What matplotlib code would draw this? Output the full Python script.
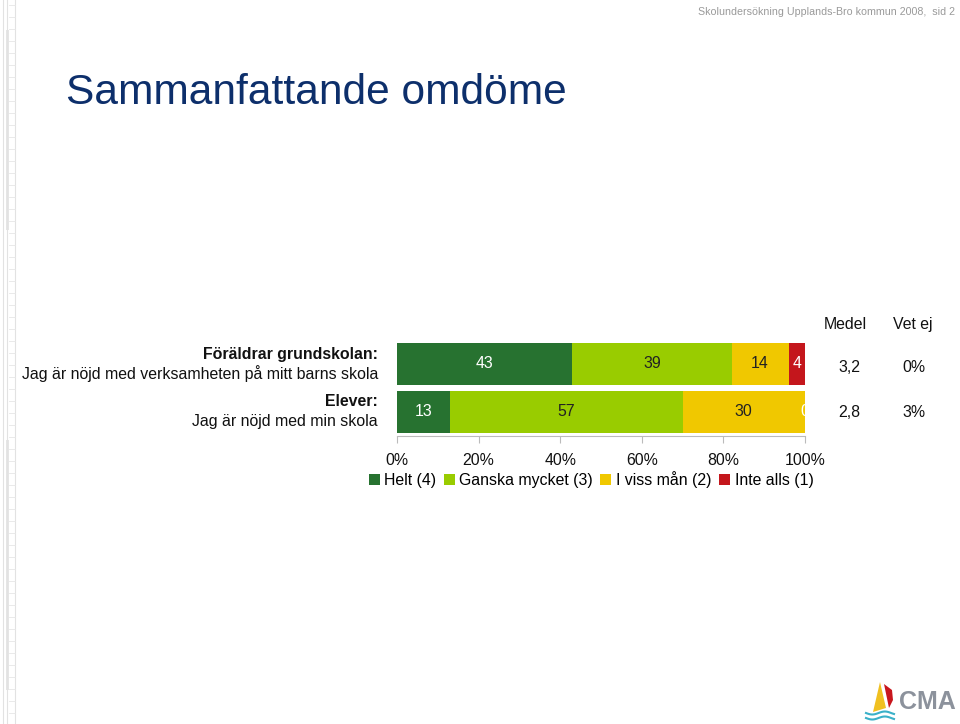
import matplotlib
matplotlib.use("Agg")
import matplotlib.pyplot as plt
from matplotlib.patches import Polygon, Rectangle
import numpy as np

plt.rcParams['font.family'] = ['Liberation Sans', 'DejaVu Sans']

# ---- data ----
rows_bold = ["Föräldrar grundskolan:", "Elever:"]
rows_text = ["Jag är nöjd med verksamheten på mitt barns skola", "Jag är nöjd med min skola"]
categories = ["Helt (4)", "Ganska mycket (3)", "I viss mån (2)", "Inte alls (1)"]
helt = [43, 13]
ganska = [39, 57]
viss = [14, 30]
inte = [4, 0]
medel = ["3,2", "2,8"]
vet_ej = ["0%", "3%"]
xticks = [0, 20, 40, 60, 80, 100]
xticklabels = ["0%", "20%", "40%", "60%", "80%", "100%"]

colors = ["#277230", "#99cc00", "#f0c800", "#c4161c"]
label_colors = ["white", "#222222", "#222222", "white"]

FS = 11.4

W, H = 960, 724
fig = plt.figure(figsize=(W / 100, H / 100), dpi=100)

def fx(px):
    return px / W

def fy(py):
    return 1 - py / H

# decorative ruler at left edge
deco = fig.add_axes([0, 0, 1, 1], zorder=-5)
deco.set_xlim(0, W)
deco.set_ylim(H, 0)
deco.axis("off")
for xv in [3, 7, 15]:
    deco.plot([xv, xv], [0, H], color="#e2e2e2", lw=0.8)
deco.add_patch(Rectangle((6, 30), 3, 200, color="#e6e6e6", lw=0))
deco.add_patch(Rectangle((6, 440), 3, 250, color="#e6e6e6", lw=0))
for yv in range(5, H, 12):
    deco.plot([9, 15], [yv, yv], color="#e6e6e6", lw=0.6)

# header and title
fig.text(fx(955), fy(12), "Skolundersökning Upplands-Bro kommun 2008,  sid 2",
         ha="right", va="center", fontsize=7.7, color="#9a9a9a")
fig.text(fx(66), fy(93), "Sammanfattande omdöme", ha="left", va="center",
         fontsize=30.6, color="#0d2f6b")

# main bar axes
ax = fig.add_axes([fx(397), fy(436), fx(805) - fx(397), (436 - 340) / H])
ypos = np.arange(len(helt))
series = [helt, ganska, viss, inte]
left = np.zeros(len(helt))
bars = []
for vals, col, lc, name in zip(series, colors, label_colors, categories):
    b = ax.barh(ypos, vals, left=left, height=0.875, color=col, label=name, edgecolor="none")
    bars.append(b)
    for i, v in enumerate(vals):
        ax.text(left[i] + v / 2, ypos[i], str(v), ha="center", va="center",
                fontsize=FS, color=lc, clip_on=True)
    left = left + np.array(vals)

ax.set_xlim(0, 100)
ax.set_ylim(1.5, -0.5)
ax.set_yticks([])
ax.set_xticks(xticks)
ax.set_xticklabels(xticklabels, fontsize=FS, color="#111111")
ax.tick_params(axis="x", direction="out", length=5, width=0.8, color="#bbbbbb", pad=7)
for s in ["top", "right", "left"]:
    ax.spines[s].set_visible(False)
ax.spines["bottom"].set_color("#bbbbbb")
ax.spines["bottom"].set_linewidth(0.8)
ax.set_facecolor("none")

# row labels
row_y_bold = [354, 402]
row_y_text = [374, 421]
for i in range(len(rows_bold)):
    fig.text(fx(378), fy(row_y_bold[i]), rows_bold[i], ha="right", va="center",
             fontsize=FS, fontweight="bold", color="#111111")
    fig.text(fx(378), fy(row_y_text[i]), rows_text[i], ha="right", va="center",
             fontsize=FS, color="#111111")

# Medel / Vet ej columns
fig.text(fx(845), fy(324), "Medel", ha="center", va="center", fontsize=FS, color="#111111")
fig.text(fx(913), fy(324), "Vet ej", ha="center", va="center", fontsize=FS, color="#111111")
val_y = [368, 413]
for i in range(len(medel)):
    fig.text(fx(849), fy(val_y[i]), medel[i], ha="center", va="center", fontsize=FS, color="#111111")
    fig.text(fx(914), fy(val_y[i]), vet_ej[i], ha="center", va="center", fontsize=FS, color="#111111")

# legend
fig.legend(handles=[b for b in bars], labels=categories, loc="center",
           bbox_to_anchor=(fx(591), fy(480)), ncol=4, frameon=False,
           fontsize=FS, handlelength=0.7, handleheight=0.7, handletextpad=0.3,
           columnspacing=0.45, borderpad=0, borderaxespad=0)

# CMA logo
deco.add_patch(Polygon([[880, 682], [873, 712], [886, 708]], closed=True, color="#f0c020", lw=0))
deco.add_patch(Polygon([[884, 684], [889, 708], [893, 700], [892, 690]], closed=True, color="#c8161d", lw=0))
xs = np.linspace(866, 894, 30)
deco.plot(xs, 713 + 1.5 * np.sin((xs - 866) / 4), color="#3ab0c8", lw=1.5)
deco.plot(xs, 718 + 1.5 * np.sin((xs - 866) / 4), color="#3ab0c8", lw=1.5)
fig.text(fx(927), fy(702), "CMA", ha="center", va="center", fontsize=18,
         fontweight="bold", color="#8c929c")

fig.savefig("out.png", dpi=100)
